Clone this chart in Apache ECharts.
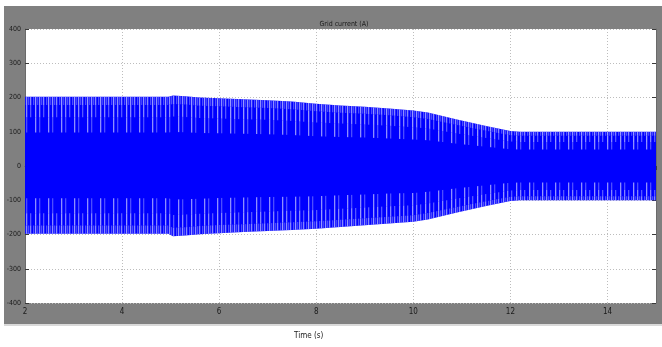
<!DOCTYPE html>
<html>
<head>
<meta charset="utf-8">
<script src="https://cdn.jsdelivr.net/npm/echarts@6/dist/echarts.min.js"></script>
<style>
  html, body { margin: 0; padding: 0; background: #fff; }
  #chart { width: 662px; height: 347px; }
</style>
</head>
<body>
<div id="chart"></div>
<script>
// Grid current envelope over the simulation run (seconds, amperes)
const times = [2, 2.5, 3, 3.5, 4, 4.5, 4.95, 5.05, 5.3, 5.6, 6, 6.5, 7, 7.5, 8, 8.5, 9, 9.5, 10,
  10.3, 10.6, 10.9, 11.2, 11.5, 11.8, 12.0, 12.2, 13, 14, 15];
const upperPeak = [202, 202, 202, 202, 202, 202, 202, 206, 204, 200, 198, 195, 192, 188, 182, 177, 173, 168, 162,
  156, 146, 136, 126, 117, 108, 102, 100, 100, 100, 100];
const lowerPeak = [-198, -198, -198, -198, -198, -198, -198, -205, -203, -199, -196, -193, -190, -187, -183, -178, -173, -168, -163,
  -156, -146, -136, -126, -117, -108, -102, -100, -100, -100, -100];

const xTicks = { min: 2, max: 15, step: 2 };
const yTicks = { min: -400, max: 400, step: 100 };

const FONT = '"Liberation Sans Narrow", "DejaVu Sans Condensed", "Liberation Sans", sans-serif';
const BLUE = '#0000ff';

// Vertical streak textures for the outer parts of the waveform band
function streakPattern(cols) {
  const c = document.createElement('canvas');
  c.width = 13; c.height = 2;
  const g = c.getContext('2d');
  cols.forEach(([x, a]) => {
    g.fillStyle = 'rgba(190,190,255,' + a + ')';
    g.fillRect(x, 0, 1, 2);
    g.fillStyle = 'rgba(190,190,255,' + (a * 0.3) + ')';
    g.fillRect((x + 1) % 13, 0, 1, 2);
  });
  return { image: c, repeat: 'repeat' };
}
const denseStreaks = streakPattern([[0, 0.75], [2, 0.4], [4, 0.7], [7, 0.4], [9, 0.8], [11, 0.35]]);
const midStreaks = streakPattern([[0, 0.7], [4, 0.45], [9, 0.8]]);
const sparseStreaks = streakPattern([[0, 0.4], [9, 0.75]]);

// Bands between two fractions of the envelope height (0 = lower peak, 1 = upper peak)
const zones = [
  { from: 0.00, to: 1.00, fill: BLUE },
  { from: 0.00, to: 0.06, fill: denseStreaks },
  { from: 0.06, to: 0.15, fill: midStreaks },
  { from: 0.15, to: 0.26, fill: sparseStreaks },
  { from: 0.74, to: 0.85, fill: sparseStreaks },
  { from: 0.85, to: 0.94, fill: midStreaks },
  { from: 0.94, to: 1.00, fill: denseStreaks }
];

function level(i, f) {
  return lowerPeak[i] + (upperPeak[i] - lowerPeak[i]) * f;
}

function renderEnvelope(params, api) {
  const children = zones.map(z => {
    const pts = [];
    for (let i = 0; i < times.length; i++) pts.push(api.coord([times[i], level(i, z.to)]));
    for (let i = times.length - 1; i >= 0; i--) pts.push(api.coord([times[i], level(i, z.from)]));
    return { type: 'polygon', shape: { points: pts }, style: { fill: z.fill, stroke: null } };
  });
  return { type: 'group', children: children };
}

const axisCommon = {
  axisLine: { show: true, lineStyle: { color: '#6a6a6a', width: 1 } },
  axisTick: { show: true, inside: true, length: 4, lineStyle: { color: '#3a3a3a', width: 1 } }
};

const chart = echarts.init(document.getElementById('chart'), null, { renderer: 'canvas' });
chart.setOption({
  animation: false,
  backgroundColor: '#ffffff',
  title: {
    text: 'Grid current (A)',
    left: 339, top: 16, textAlign: 'center',
    textStyle: { fontFamily: FONT, fontSize: 7, fontWeight: 'normal', color: '#1a1a1a' }
  },
  graphic: [
    { type: 'rect', z: -10, silent: true, shape: { x: 4, y: 6, width: 658, height: 318 }, style: { fill: '#808080' } },
    { type: 'rect', z: -10, silent: true, shape: { x: 4, y: 324, width: 658, height: 2 }, style: { fill: '#d9d9d9' } },
    { type: 'text', z: 10, silent: true, left: 294, top: 332,
      style: { text: 'Time (s)', font: '8px ' + FONT, fill: '#1a1a1a' } }
  ],
  grid: {
    left: 25, right: 6, top: 29, bottom: 44,
    show: true, backgroundColor: '#ffffff', borderWidth: 0
  },
  xAxis: [
    Object.assign({
      type: 'value', min: xTicks.min, max: xTicks.max, interval: xTicks.step, position: 'bottom',
      axisLabel: { show: true, margin: 5, fontFamily: FONT, fontSize: 8, color: '#1a1a1a', showMaxLabel: false },
      splitLine: { show: true, lineStyle: { color: '#bdbdbd', type: [1, 2], width: 1 } }
    }, axisCommon),
    Object.assign({
      type: 'value', min: xTicks.min, max: xTicks.max, interval: xTicks.step, position: 'top',
      axisLabel: { show: false }, splitLine: { show: false }
    }, axisCommon)
  ],
  yAxis: [
    Object.assign({
      type: 'value', min: yTicks.min, max: yTicks.max, interval: yTicks.step, position: 'left',
      axisLabel: { show: true, margin: 4, fontFamily: FONT, fontSize: 7, color: '#1a1a1a' },
      splitLine: { show: true, lineStyle: { color: '#bdbdbd', type: [1, 2], width: 1 } }
    }, axisCommon),
    Object.assign({
      type: 'value', min: yTicks.min, max: yTicks.max, interval: yTicks.step, position: 'right',
      axisLabel: { show: false }, splitLine: { show: false }
    }, axisCommon)
  ],
  series: [{
    type: 'custom',
    name: 'Grid current',
    silent: true,
    clip: true,
    renderItem: renderEnvelope,
    data: [[times[0], upperPeak[0]]],
    encode: { x: 0, y: 1 }
  }]
});
</script>
</body>
</html>
